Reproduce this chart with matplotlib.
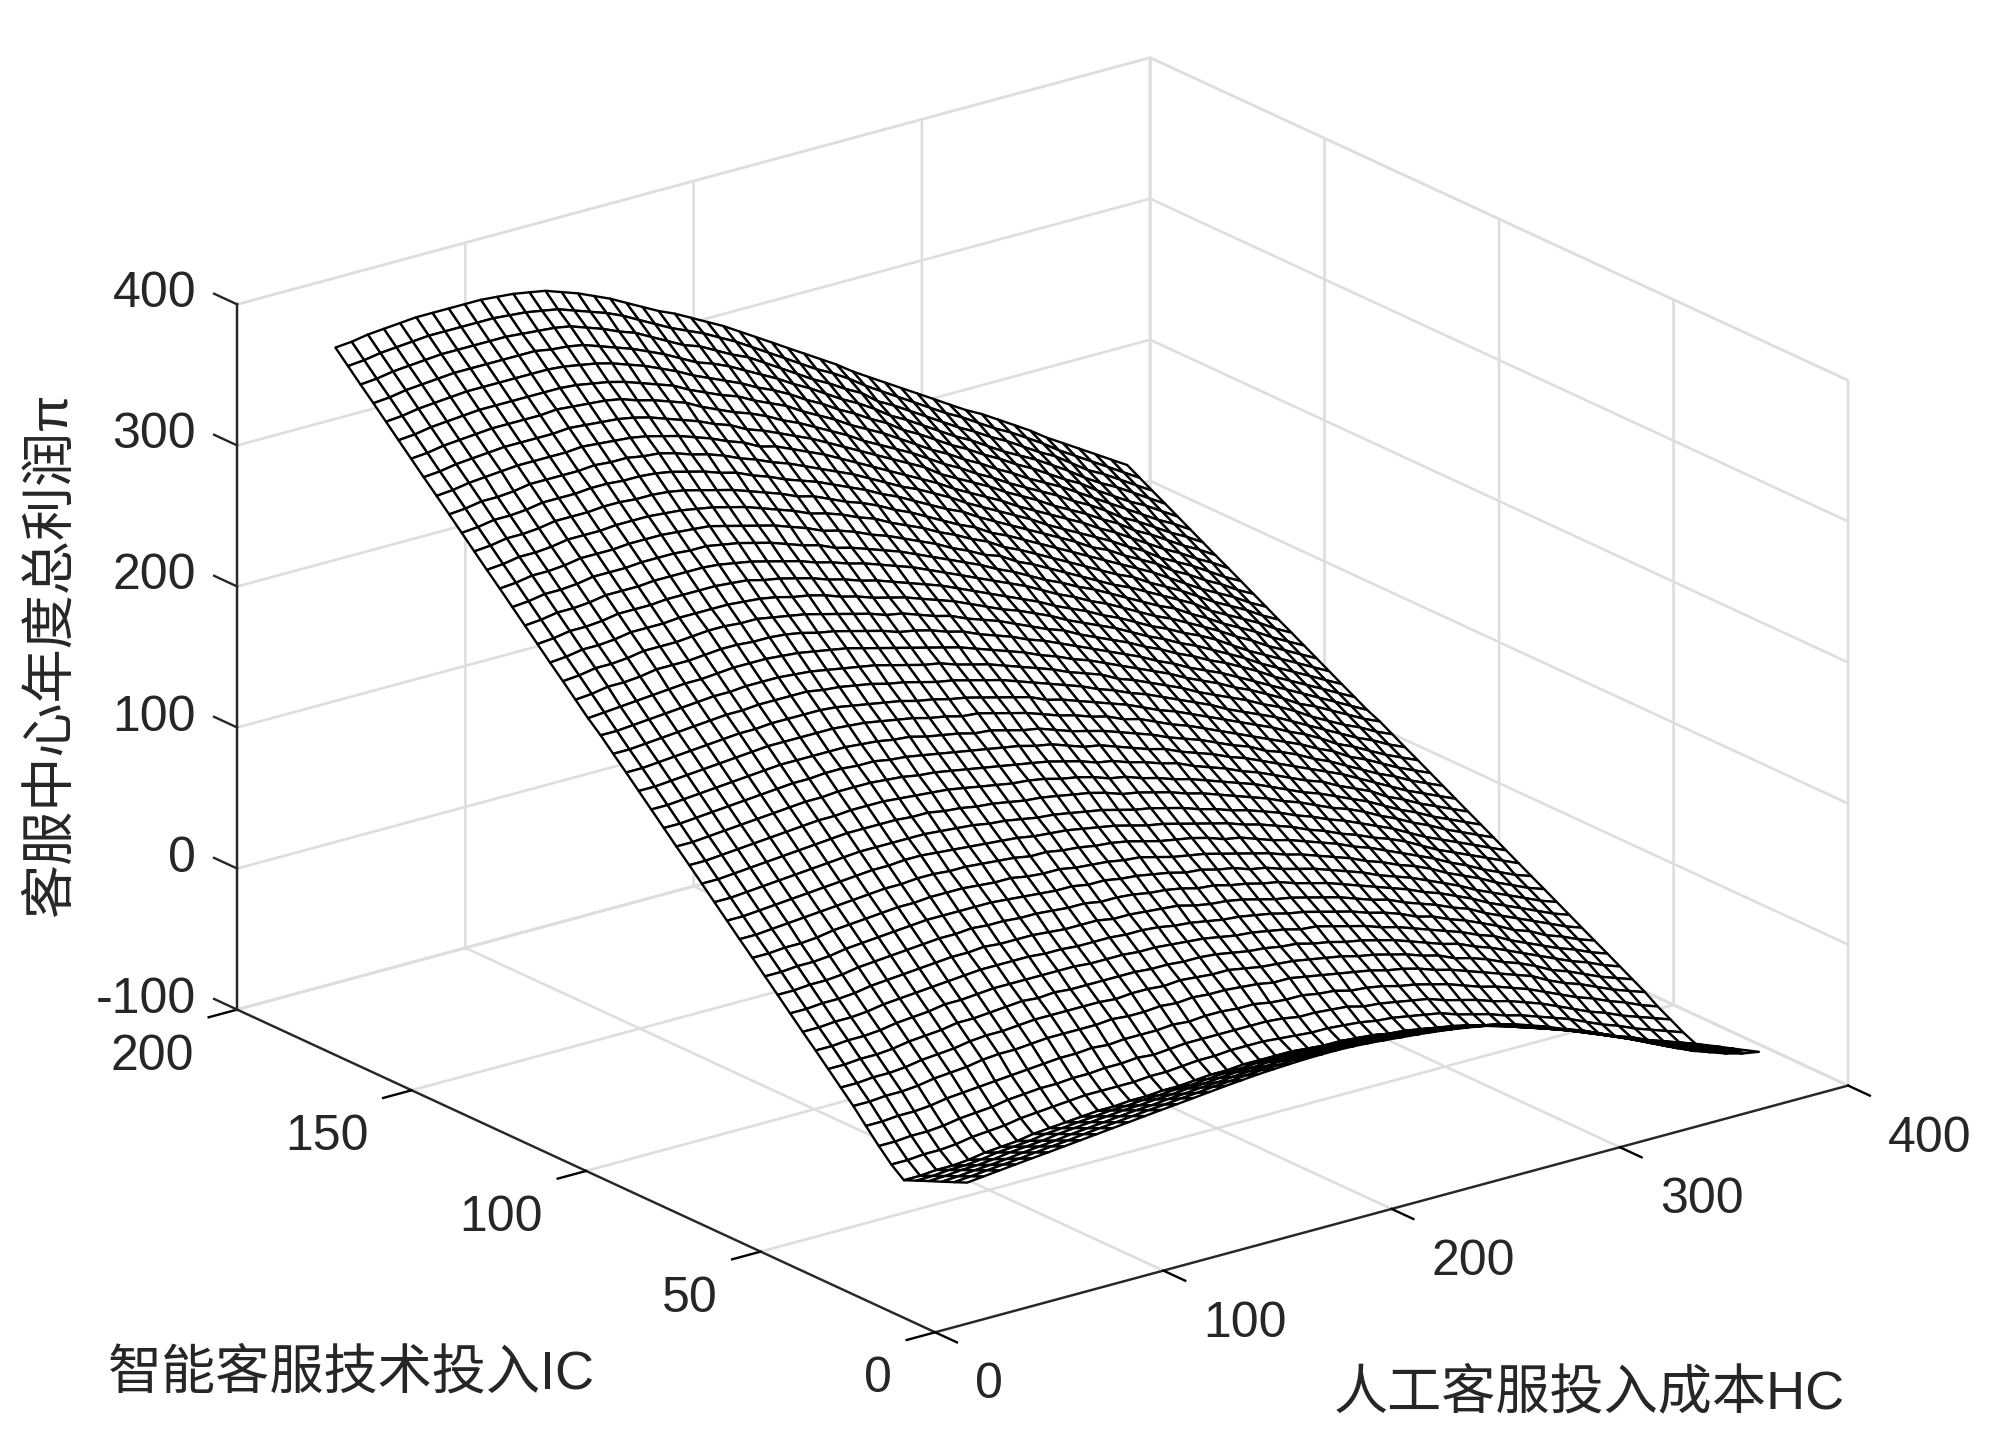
from matplotlib import pyplot as plt
from mpl_toolkits.mplot3d import proj3d
import numpy as np

plt.rcParams['font.family'] = ['Liberation Sans', 'Noto Sans CJK SC']

x_label = '人工客服投入成本HC'
y_label = '智能客服技术投入IC'
z_label = '客服中心年度总利润π'

x_ticks = [0, 100, 200, 300, 400]
y_ticks = [0, 50, 100, 150, 200]
z_ticks = [-100, 0, 100, 200, 300, 400]

hc_values = [14.0, 21.1, 28.2, 35.2, 42.3, 49.4, 56.5, 63.6, 70.6, 77.7,
             84.8, 91.9, 99.0, 106.0, 113.1, 120.2, 127.3, 134.4, 141.4, 148.5,
             155.6, 162.7, 169.8, 176.8, 183.9, 191.0, 198.1, 205.2, 212.2, 219.3,
             226.4, 233.5, 240.6, 247.6, 254.7, 261.8, 268.9, 276.0, 283.0, 290.1,
             297.2, 304.3, 311.4, 318.4, 325.5, 332.6, 339.7, 346.8, 353.8, 360.9]
ic_values = [0, 3.6, 7.2, 10.9, 14.5, 18.1, 21.7, 25.3, 29.0, 32.6,
             36.2, 39.8, 43.4, 47.1, 50.7, 54.3, 57.9, 61.5, 65.2, 68.8,
             72.4, 76.0, 79.6, 83.3, 86.9, 90.5, 94.1, 97.7, 101.4, 105.0,
             108.6, 112.2, 115.8, 119.5, 123.1, 126.7, 130.3, 133.9, 137.6, 141.2,
             144.8, 148.4, 152.0, 155.7, 159.3, 162.9, 166.5, 170.1, 173.8, 177.4, 181.0]

# profit, going up through ic_values
profit = [
[0,-3.8,-7.6,-11.4,-15.2,-19,-12,-3,7,17,26,35,44,53,62,71,80,89,98,107,116,125,134,143,152,161,170,179,188,197,205,214,223,232,241,250,259,268,277,286,295,304,313,322,331,340,349,358,367,376,385],
[1.2,-2.8,-6.9,-10.9,-15,-19,-12,-3,7,17,26,35,44,53,62,71,80,89,98,107,116,125,134,143,152,161,170,179,188,197,206,215,224,233,242,251,260,269,278,287,296,305,314,323,332,341,350,359,368,377,386],
[2.4,-1.7,-5.8,-9.8,-13.9,-18,-11,-2,8,18,27,36,45,54,63,72,81,90,99,108,117,126,135,144,153,162,171,180,189,198,207,217,226,235,244,253,262,271,280,289,298,307,316,325,334,343,352,361,370,379,388],
[3.6,-0.7,-5,-9.4,-13.7,-18,-11,-2,8,18,27,36,45,54,63,72,81,90,100,109,118,127,136,145,154,163,172,181,190,199,208,217,226,235,244,253,262,271,280,289,298,307,317,326,335,344,353,362,371,380,389],
[4.8,0.4,-3.9,-8.3,-12.6,-17,-10,-1,9,19,28,37,46,55,64,73,82,91,101,110,119,128,137,146,155,164,173,182,191,200,209,218,227,236,245,254,263,272,281,290,299,308,318,327,336,345,354,363,372,381,390],
[5.9,1.7,-2.5,-6.6,-10.8,-15,-8,1,11,21,30,39,48,57,66,75,84,93,102,111,120,129,138,147,156,165,174,183,192,201,210,220,229,238,247,256,265,274,283,292,301,310,319,328,337,346,355,364,373,382,391],
[7.1,2.9,-1.3,-5.6,-9.8,-14,-7,2,12,22,31,40,49,58,67,76,85,94,103,112,121,130,139,148,157,166,175,184,193,202,211,220,229,238,247,256,265,274,283,292,301,310,319,328,337,346,355,364,373,382,391],
[8.3,4,-0.2,-4.5,-8.7,-13,-6,3,13,23,32,41,50,59,68,77,86,95,104,113,122,131,140,149,158,167,176,185,194,203,211,220,229,238,247,256,265,274,283,292,301,310,319,328,337,346,355,364,373,382,391],
[9.5,5.4,1.3,-2.8,-6.9,-11,-4,5,14,25,34,43,52,60,69,78,87,96,105,114,123,132,141,150,159,168,177,185,194,203,212,221,230,239,248,257,266,275,284,293,302,310,319,328,337,346,355,364,373,382,391],
[10.7,6.6,2.4,-1.7,-5.9,-10,-3,6,15,26,35,43,52,61,70,79,88,97,106,115,124,133,141,150,159,168,177,186,195,204,213,222,231,239,248,257,266,275,284,293,302,311,320,329,338,346,355,364,373,382,391],
[11.9,7.7,3.5,-0.6,-4.8,-9,-2,7,16,26,35,44,53,62,71,80,89,97,106,115,124,133,142,151,160,168,177,186,195,204,213,222,231,239,248,257,266,275,284,292,301,310,319,328,337,346,355,364,372,381,390],
[13.1,8.9,4.7,0.4,-3.8,-8,-1,7,17,27,36,45,54,63,71,80,89,98,107,116,124,133,142,151,160,168,177,186,195,204,213,221,230,239,248,257,265,274,283,292,301,310,318,327,336,345,354,362,371,380,389],
[14.3,10,5.8,1.5,-2.7,-7,0,8,18,28,37,46,54,63,72,81,89,98,107,116,124,133,142,151,159,168,177,186,195,203,212,221,230,238,247,256,265,273,282,291,300,308,317,326,335,343,352,361,370,378,387],
[15.4,10.9,6.4,2,-2.5,-7,0,8,18,28,37,45,54,63,71,80,89,98,106,115,124,132,141,150,159,167,176,185,193,202,211,220,228,237,246,254,263,272,280,289,298,307,315,324,333,341,350,359,368,376,385],
[16.6,12.1,7.6,3,-1.5,-6,0,9,19,28,37,46,54,63,71,80,89,97,106,114,123,132,140,149,157,166,175,183,192,200,209,218,226,235,243,252,261,269,278,286,295,304,312,321,329,338,347,355,364,372,381],
[17.8,13,8.3,3.5,-1.2,-6,0,9,18,28,37,45,54,62,71,79,88,96,105,113,122,130,139,147,156,164,173,181,190,198,207,215,224,232,241,249,258,266,275,283,292,300,309,317,326,334,343,351,360,368,377],
[19,14.2,9.4,4.6,-0.2,-5,1,10,19,29,37,45,54,62,70,79,87,96,104,112,121,129,138,146,154,163,171,179,188,196,205,213,221,230,238,246,255,263,272,280,288,297,305,313,322,330,339,347,355,364,372],
[20,15,10,5,0,-5,1,9,19,28,36,45,53,61,69,78,86,94,103,111,119,127,136,144,152,160,169,177,185,194,202,210,218,227,235,243,251,260,268,276,285,293,301,309,318,326,334,342,351,359,367],
[21,16,11,6,1,-4,2,10,19,28,37,45,53,61,69,77,85,93,101,110,118,126,134,142,150,158,166,174,183,191,199,207,215,223,231,239,247,256,264,272,280,288,296,304,312,320,329,337,345,353,361],
[21.7,16.8,11.8,6.9,1.9,-3,3,11,20,29,37,45,53,61,69,77,85,93,101,108,116,124,132,140,148,156,164,172,180,188,196,204,212,220,228,236,244,252,260,268,276,284,292,300,307,315,323,331,339,347,355],
[22.3,17.2,12.2,7.1,2.1,-3,3,11,19,28,36,44,52,60,67,75,83,91,99,107,114,122,130,138,146,153,161,169,177,185,193,200,208,216,224,232,239,247,255,263,271,279,286,294,302,310,318,325,333,341,349],
[22.8,17.8,12.9,7.9,3,-2,4,11,20,29,37,44,52,60,67,75,83,90,98,106,113,121,129,136,144,152,160,167,175,183,190,198,206,213,221,229,236,244,252,260,267,275,283,290,298,306,313,321,329,336,344],
[23,18,13,8,3,-2,4,11,20,28,36,43,51,59,66,74,81,89,96,104,111,119,127,134,142,149,157,164,172,179,187,195,202,210,217,225,232,240,248,255,263,270,278,285,293,300,308,316,323,331,338],
[23,18,13,8,3,-2,4,11,19,28,35,43,50,57,65,72,80,87,95,102,109,117,124,132,139,146,154,161,169,176,184,191,198,206,213,221,228,235,243,250,258,265,273,280,287,295,302,310,317,325,332],
[22.6,17.7,12.8,7.8,2.9,-2,3,11,19,27,35,42,49,56,64,71,78,86,93,100,107,115,122,129,137,144,151,158,166,173,180,188,195,202,209,217,224,231,239,246,253,260,268,275,282,290,297,304,312,319,326],
[21.8,16.8,11.9,6.9,2,-3,2,10,17,26,33,40,47,54,61,69,76,83,90,97,104,112,119,126,133,140,147,155,162,169,176,183,190,198,205,212,219,226,233,241,248,255,262,269,276,283,291,298,305,312,319],
[20.8,15.8,10.9,5.9,1,-4,1,8,16,24,31,38,45,52,59,66,73,80,87,94,101,108,115,122,129,136,143,150,158,165,172,179,186,193,200,207,214,221,228,235,242,249,256,263,270,277,284,291,298,305,312],
[19.7,15,10.2,5.5,0.7,-4,1,8,16,24,30,37,44,51,58,65,72,78,85,92,99,106,113,120,127,133,140,147,154,161,168,175,182,188,195,202,209,216,223,230,237,243,250,257,264,271,278,285,291,298,305],
[18.6,13.9,9.2,4.4,-0.3,-5,0,7,14,22,29,35,42,49,56,62,69,76,83,89,96,103,109,116,123,130,136,143,150,157,163,170,177,183,190,197,204,210,217,224,231,237,244,251,257,264,271,278,284,291,298],
[17.3,12.6,8,3.3,-1.3,-6,-1,6,13,20,27,34,40,47,53,60,67,73,80,86,93,100,106,113,119,126,133,139,146,152,159,166,172,179,185,192,199,205,212,218,225,232,238,245,251,258,265,271,278,284,291],
[15.8,11,6.3,1.5,-3.2,-8,-3,3,10,18,25,31,37,44,50,57,63,70,76,83,89,96,102,109,115,122,128,135,141,148,154,161,167,174,180,187,193,199,206,212,219,226,232,239,245,252,258,265,271,278,284],
[14,9.4,4.8,0.2,-4.4,-9,-4,2,9,16,23,29,36,42,48,55,61,67,74,80,86,93,99,106,112,118,125,131,137,144,150,156,163,169,175,182,188,195,201,207,214,220,226,233,239,245,252,258,265,271,277],
[12,7.4,2.8,-1.8,-6.4,-11,-6,0,7,14,20,26,33,39,45,51,57,64,70,76,82,89,95,101,107,113,120,126,132,138,145,151,157,163,169,176,182,188,194,200,207,213,219,225,232,238,244,250,256,263,269],
[10,5.4,0.8,-3.8,-8.4,-13,-8,-2,4,11,18,24,30,36,42,48,54,60,66,73,79,85,91,97,103,109,115,121,128,134,140,146,152,158,164,170,176,183,189,195,201,207,213,219,225,231,238,244,250,256,262],
[7,2.6,-1.8,-6.2,-10.6,-15,-10,-4,2,9,15,21,27,33,39,45,51,57,63,69,75,81,87,93,99,105,111,117,123,129,135,141,147,153,159,165,171,177,183,189,195,201,207,213,219,225,231,237,243,249,255],
[3,-1.2,-5.4,-9.6,-13.8,-18,-14,-8,-1,6,12,18,23,29,35,41,47,53,59,65,71,77,83,88,94,100,106,112,118,124,130,136,142,148,153,159,165,171,177,183,189,195,201,207,212,218,224,230,236,242,248],
[-1,-5,-9,-13,-17,-21,-17,-11,-4,2,8,14,20,26,31,37,43,49,55,60,66,72,78,84,90,95,101,107,113,119,125,130,136,142,148,154,160,165,171,177,183,189,194,200,206,212,218,223,229,235,241],
[-6,-9.6,-13.2,-16.8,-20.4,-24,-20,-14,-8,-1,5,10,16,22,28,33,39,45,51,56,62,68,73,79,85,91,96,102,108,113,119,125,131,136,142,148,154,159,165,171,177,182,188,194,199,205,211,217,222,228,234],
[-10,-13.6,-17.2,-20.8,-24.4,-28,-24,-18,-12,-5,0,6,12,17,23,29,34,40,46,51,57,63,68,74,80,85,91,97,102,108,114,119,125,131,136,142,148,153,159,165,171,176,182,188,193,199,205,210,216,222,227],
[-15,-18.2,-21.4,-24.6,-27.8,-31,-27,-21,-15,-9,-3,3,8,14,19,25,30,36,42,47,53,58,64,69,75,81,86,92,97,103,109,114,120,125,131,136,142,148,153,159,164,170,176,181,187,192,198,203,209,215,220],
[-20,-23,-26,-29,-32,-35,-31,-25,-19,-13,-7,-2,4,9,15,20,26,31,37,42,48,54,59,65,70,76,81,87,92,98,103,109,114,120,125,131,136,142,148,153,159,164,170,175,181,186,192,197,203,208,214],
[-25,-27.8,-30.6,-33.4,-36.2,-39,-35,-29,-23,-17,-12,-6,-1,5,10,16,21,27,32,38,43,49,54,59,65,70,76,81,87,92,98,103,109,114,120,125,131,136,141,147,152,158,163,169,174,180,185,191,196,202,207],
[-30,-32.6,-35.2,-37.8,-40.4,-43,-39,-34,-28,-21,-16,-11,-5,0,6,11,16,22,27,33,38,43,49,54,60,65,70,76,81,87,92,97,103,108,114,119,124,130,135,141,146,151,157,162,168,173,178,184,189,195,200],
[-35,-37.6,-40.2,-42.8,-45.4,-48,-44,-39,-33,-27,-21,-16,-11,-5,0,6,11,16,22,27,32,38,43,49,54,59,65,70,75,81,86,91,97,102,107,113,118,124,129,134,140,145,150,156,161,166,172,177,183,188,193],
[-41,-43.4,-45.8,-48.2,-50.6,-53,-49,-44,-38,-32,-27,-21,-16,-11,-5,0,5,11,16,21,26,32,37,42,48,53,58,63,69,74,79,85,90,95,100,106,111,116,122,127,132,137,143,148,153,159,164,169,175,180,185],
[-46,-48.2,-50.4,-52.6,-54.8,-57,-53,-48,-42,-36,-31,-26,-21,-15,-10,-5,0,6,11,16,21,27,32,37,42,47,53,58,63,68,74,79,84,89,94,100,105,110,115,120,126,131,136,142,147,152,157,162,167,173,178],
[-50,-52.4,-54.8,-57.2,-59.6,-62,-58,-53,-47,-41,-36,-31,-26,-21,-15,-10,-5,0,5,11,16,21,26,31,36,42,47,52,57,62,68,73,78,83,88,93,99,104,109,114,119,125,130,135,140,145,150,156,161,166,171],
[-54,-56.4,-58.8,-61.2,-63.6,-66,-62,-57,-51,-46,-41,-35,-30,-25,-20,-15,-10,-5,0,6,11,16,21,26,31,36,41,46,52,57,62,67,72,77,82,87,92,98,103,108,113,118,123,128,133,138,144,149,154,159,164],
[-57,-59.6,-62.2,-64.8,-67.4,-70,-66,-61,-56,-50,-45,-40,-35,-30,-25,-20,-15,-10,-5,1,6,11,16,21,26,31,36,41,46,51,56,61,66,71,76,81,86,91,96,101,106,111,117,122,127,132,137,142,147,152,157],
[-59,-62,-65,-68,-71,-74,-70,-65,-60,-54,-49,-44,-39,-34,-29,-24,-19,-14,-9,-4,1,6,11,16,21,26,31,36,41,46,51,55,60,65,70,75,80,85,90,95,100,105,110,115,120,125,130,135,140,145,150],
]

# tick text, offset in pixels of the 2000 wide image from the tick's corner
def tick_text(ax, x, y, z, text, dx, dy, ha):
    xs, ys, _ = proj3d.proj_transform(x, y, z, ax.get_proj())
    ax.annotate(text, (xs, ys), xytext=(dx * 0.36, -dy * 0.36), textcoords='offset points',
                ha=ha, va='center', fontsize=18, color='#262626', annotation_clip=False)

def main():
    fig = plt.figure(figsize=(10, 7.215), dpi=200)
    ax = fig.add_axes([0.1105, -0.051, 0.8, 1.1088], projection='3d')
    ax.set_proj_type('ortho')
    ax.set_box_aspect((1, 1, 0.656), zoom=1.087)
    ax.view_init(elev=20.7, azim=-127.4)

    xx, yy = np.meshgrid(hc_values, ic_values)
    zz = np.array(profit).T
    ax.plot_surface(xx, yy, zz, rstride=1, cstride=1, color='white',
                    edgecolor='black', linewidth=0.85, shade=False)

    # z ticks in the reference run along IC, the 3d axis would draw them along HC
    for t in z_ticks:
        ax.plot([0, 0], [200, 206.6], [t, t], color='#262626', linewidth=0.85, clip_on=False)

    ax.set_xlim(0, 400, view_margin=0)
    ax.set_ylim(0, 200, view_margin=0)
    ax.set_zlim(-100, 400, view_margin=0)
    ax.set_xticks(x_ticks)
    ax.set_yticks(y_ticks)
    ax.set_zticks(z_ticks)
    ax.set_xticklabels([])
    ax.set_yticklabels([])
    ax.set_zticklabels([])

    for axis in [ax.xaxis, ax.yaxis, ax.zaxis]:
        axis.pane.set_facecolor('white')
        axis.pane.set_edgecolor('#dcdcdc')
        axis.pane.set_linewidth(0.95)
        axis.line.set_color('#262626')
        axis.line.set_linewidth(0.85)
        axis._axinfo['grid'].update(color='#dedede', linewidth=0.95)
        axis._axinfo['tick'].update(linewidth={True: 0.85, False: 0.85}, color='#262626')
    ax.xaxis._axinfo['tick'].update(inward_factor=0.39, outward_factor=0)
    ax.yaxis._axinfo['tick'].update(inward_factor=0.39, outward_factor=0)
    ax.zaxis._axinfo['tick'].update(inward_factor=0, outward_factor=0)

    for t in x_ticks:
        tick_text(ax, t, 0, -100, str(t), 40, 53, 'left')
    for t in y_ticks:
        tick_text(ax, 0, t, -100, str(t), -43, 47, 'right')
    for t in z_ticks:
        tick_text(ax, 0, 200, t, str(t), -41, -10, 'right')

    fig.text(1334 / 2000, 1 - 1394 / 1443, x_label, fontsize=19.5, ha='left', va='center', color='#262626')
    fig.text(108 / 2000, 1 - 1374 / 1443, y_label, fontsize=19.5, ha='left', va='center', color='#262626')
    fig.text(52 / 2000, 1 - 655 / 1443, z_label, fontsize=19.5, rotation=90, ha='center', va='center', color='#262626')

    fig.savefig('out.png', dpi=200, facecolor='white')

if __name__ == "__main__":
    main()
